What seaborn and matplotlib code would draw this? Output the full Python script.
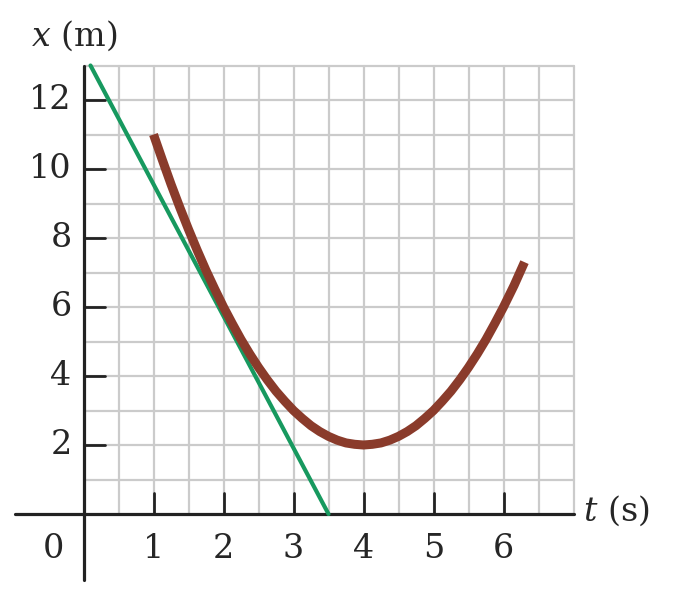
import matplotlib
matplotlib.use("Agg")
import matplotlib.pyplot as plt
import seaborn as sns
import numpy as np
import pandas as pd

# ---- data ----
curve_t = [1.0, 1.125, 1.25, 1.375, 1.5, 1.625, 1.75, 1.875, 2.0, 2.125, 2.25, 2.375,
           2.5, 2.625, 2.75, 2.875, 3.0, 3.125, 3.25, 3.375, 3.5, 3.625, 3.75, 3.875,
           4.0, 4.125, 4.25, 4.375, 4.5, 4.625, 4.75, 4.875, 5.0, 5.125, 5.25, 5.375,
           5.5, 5.625, 5.75, 5.875, 6.0, 6.15, 6.3]
curve_x = [11.0, 10.27, 9.56, 8.89, 8.25, 7.64, 7.06, 6.52, 6.0, 5.52, 5.06, 4.64,
           4.25, 3.89, 3.56, 3.27, 3.0, 2.77, 2.56, 2.39, 2.25, 2.14, 2.06, 2.02,
           2.0, 2.02, 2.06, 2.14, 2.25, 2.39, 2.56, 2.77, 3.0, 3.27, 3.56, 3.89,
           4.25, 4.64, 5.06, 5.52, 6.0, 6.62, 7.3]
tangent_t = [0.1, 3.5]
tangent_x = [13.0, 0.0]
t_ticks = [1, 2, 3, 4, 5, 6]
x_ticks = [2, 4, 6, 8, 10, 12]
t_labels = ["1", "2", "3", "4", "5", "6"]
x_labels = ["2", "4", "6", "8", "10", "12"]

sns.set_style("white")
plt.rcParams['font.family'] = ['DejaVu Serif']

fig = plt.figure(figsize=(6.88, 5.94), dpi=100)
ax = fig.add_axes([0, 0, 1, 1])
ax.set_xlim(-83.5 / 70, (688 - 83.5) / 70)
ax.set_ylim((514 - 594) / 34.5, 514 / 34.5)
ax.axis("off")

grid_c = "#cbcbcb"
t_max, x_max = 7.0, 13.0
for gt in np.arange(0.5, t_max + 0.01, 0.5):
    ax.plot([gt, gt], [0, x_max], color=grid_c, lw=1.6, zorder=1)
for gx in np.arange(1, x_max + 0.01, 1):
    ax.plot([0, t_max], [gx, gx], color=grid_c, lw=1.6, zorder=1)

# axes
ax.plot([-0.98, t_max], [0, 0], color="#222222", lw=2.3, zorder=3)
ax.plot([0, 0], [-1.9, x_max], color="#222222", lw=2.3, zorder=3)
for tt in t_ticks:
    ax.plot([tt, tt], [0, 0.6], color="#222222", lw=2.0, zorder=3)
for xx in x_ticks:
    ax.plot([0, 0.31], [xx, xx], color="#222222", lw=2.0, zorder=3)

# curves
sns.lineplot(x=tangent_t, y=tangent_x, ax=ax, color="#17995f", lw=3.0,
             zorder=4, sort=False, estimator=None)
df = pd.DataFrame({"t": curve_t, "x": curve_x})
sns.lineplot(data=df, x="t", y="x", ax=ax, color="#8a3b2b", lw=6.5,
             zorder=5, sort=False, estimator=None, solid_capstyle="butt",
             solid_joinstyle="round")

fs = 24
for tt, lab in zip(t_ticks, t_labels):
    ax.text(tt, -1.0, lab, ha="center", va="center", fontsize=fs)
ax.text(-0.43, -1.0, "0", ha="center", va="center", fontsize=fs)
for xx, lab in zip(x_ticks, x_labels):
    ax.text(-0.17, xx, lab, ha="right", va="center", fontsize=fs)

ax.text(-0.75, 13.85, "$\\mathit{x}$ (m)", ha="left", va="center", fontsize=fs,
        math_fontfamily="dejavuserif")
ax.text(7.13, 0.1, "$\\mathit{t}$ (s)", ha="left", va="center", fontsize=fs,
        math_fontfamily="dejavuserif")

fig.savefig("out.png", dpi=100)
